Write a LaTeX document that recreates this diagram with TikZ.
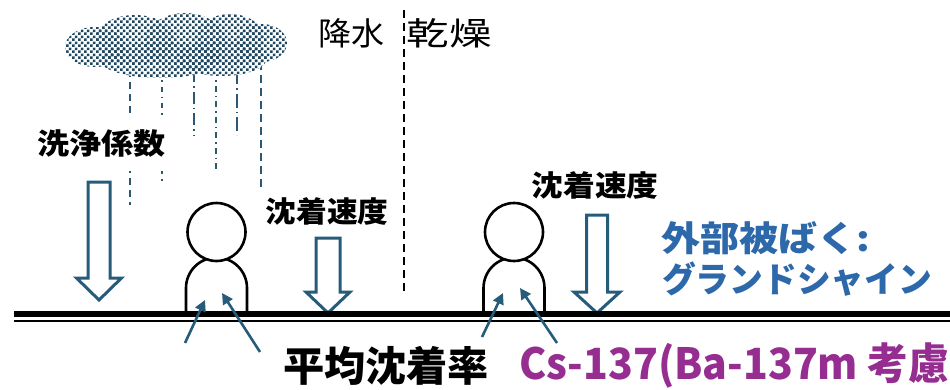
\documentclass[tikz,border=0pt]{standalone}
\usepackage{fontspec}
\usepackage{graphicx}
\newfontfamily\jp{Noto Sans CJK JP}
\usetikzlibrary{arrows.meta,patterns}

\definecolor{arrowteal}{RGB}{38,92,122}
\definecolor{raincol}{RGB}{45,88,115}
\definecolor{cloudcol}{RGB}{30,70,95}
\definecolor{gsblue}{RGB}{44,104,170}
\definecolor{cspurple}{RGB}{150,45,145}

% staggered grid of small squares for the rain cloud
\pgfdeclarepatternformonly{cloudspeck}{\pgfqpoint{0pt}{0pt}}{\pgfqpoint{6pt}{6pt}}{\pgfqpoint{6pt}{6pt}}{%
  \pgfpathrectangle{\pgfqpoint{0.2pt}{0.2pt}}{\pgfqpoint{2.9pt}{2.9pt}}%
  \pgfpathrectangle{\pgfqpoint{3.2pt}{3.2pt}}{\pgfqpoint{2.9pt}{2.9pt}}%
  \pgfusepath{fill}}

% stretch a text horizontally to a given width
\newcommand\fitw[2]{\resizebox{#1}{\height}{#2}}

% hollow down arrow: centre x, top y, head start y, tip y, shaft half width, head half width
\newcommand\hollowdown[6]{%
  \draw[hollow] (#1-#5,#2) -- (#1+#5,#2) -- (#1+#5,#3) -- (#1+#6,#3) -- (#1,#4)
    -- (#1-#6,#3) -- (#1-#5,#3) -- cycle;}

\tikzset{
  hollow/.style={draw=arrowteal, line width=3pt, fill=white, line join=miter},
  rain/.style={draw=raincol, line width=2pt},
  person/.style={draw=black, line width=2.6pt, fill=white},
  ptr/.style={draw=arrowteal, line width=2.6pt, -{Triangle[length=11pt,width=11pt]}},
  lbl/.style={inner sep=0pt},
  lblbox/.style={fill=white, inner sep=0pt},
}

\begin{document}
\begin{tikzpicture}[x=1pt,y=-1pt]
\useasboundingbox (0,0) rectangle (950,389);
\fill[white] (0,0) rectangle (950,389);

% rain streaks below the cloud
\draw[rain, dash pattern=on 7pt off 5pt] (130,70) -- (130,205);
\draw[rain, dash pattern=on 5pt off 5pt on 1.5pt off 5pt] (162,70) -- (162,182);
\draw[rain, dash pattern=on 12pt off 4pt on 1.5pt off 4pt] (194,70) -- (194,135);
\draw[rain, dash pattern=on 6pt off 4pt on 1.5pt off 4pt] (216,70) -- (216,170);
\draw[rain, dash pattern=on 14pt off 4pt on 1.5pt off 4pt] (237,70) -- (237,135);
\draw[rain, dash pattern=on 8pt off 5pt] (261,62) -- (261,188);

% cloud
\foreach \cx/\cy/\rx/\ry in {95/47/30/20, 135/40/40/25, 185/42/40/29, 230/40/35/26,
                               262/43/25/19, 160/60/60/18, 222/58/45/18} {
  \fill[white] (\cx,\cy) ellipse [x radius=\rx, y radius=\ry];
}
\foreach \cx/\cy/\rx/\ry in {95/47/30/20, 135/40/40/25, 185/42/40/29, 230/40/35/26,
                               262/43/25/19, 160/60/60/18, 222/58/45/18} {
  \fill[pattern=cloudspeck, pattern color=cloudcol] (\cx,\cy) ellipse [x radius=\rx, y radius=\ry];
}

% label background over the rain
\node[lblbox, minimum width=150pt, minimum height=56pt] (wbox) at (103,143) {};

% boundary between wet and dry deposition
\coordinate (divtop) at (404,10);
\coordinate (divbot) at (404,293);
\draw[black, line width=1.6pt, dash pattern=on 8pt off 5pt] (divtop) -- (divbot);

% hollow deposition arrows
\hollowdown{99}{182}{278}{300}{11}{22.5}
\hollowdown{328}{238}{292}{313}{12}{22}
\hollowdown{597}{215}{292}{313}{10.5}{23}

% people
\foreach \px in {216.5, 514} {
  \draw[person] (\px-30.5,313) -- (\px-30.5,288) arc (180:360:30.5) -- (\px+30.5,313);
  \draw[person] (\px,232) circle [radius=29];
}

% ground surface
\coordinate (gl) at (14,314);
\coordinate (gr) at (950,314);
\coordinate (tl) at (14,321);
\coordinate (tr) at (950,321);
\draw[black, line width=6pt] (gl) -- (gr);
\draw[black, line width=1.6pt] (tl) -- (tr);

% arrows pointing at the people
\coordinate (a1s) at (185,343); \coordinate (a1e) at (205,300);
\coordinate (a2s) at (260,352); \coordinate (a2e) at (222,293);
\coordinate (b1s) at (482,337); \coordinate (b1e) at (503,293);
\coordinate (b2s) at (557,343); \coordinate (b2e) at (520,288);
\draw[ptr] (a1s) -- (a1e);
\draw[ptr] (a2s) -- (a2e);
\draw[ptr] (b1s) -- (b1e);
\draw[ptr] (b2s) -- (b2e);

% texts
\node[lbl, font={\jp\bfseries\fontsize{29}{31}\selectfont}] (wash) at (101,144) {\fitw{128pt}{洗浄係数}};
\node[lbl, font={\jp\bfseries\fontsize{29}{31}\selectfont}] (vdl) at (327,211) {\fitw{123pt}{沈着速度}};
\node[lbl, font={\jp\bfseries\fontsize{29}{31}\selectfont}] (vdr) at (595,185) {\fitw{127pt}{沈着速度}};
\node[lbl, font={\jp\fontsize{32}{34}\selectfont}] (wet) at (351.5,33) {\fitw{66pt}{降水}};
\node[lbl, font={\jp\fontsize{32}{34}\selectfont}] (dry) at (449,33) {\fitw{85pt}{乾燥}};
\node[lbl, anchor=west, text=gsblue, font={\jp\bfseries\fontsize{35}{37}\selectfont}] (ext) at (661,238) {\fitw{209pt}{外部被ばく:}};
\node[lbl, anchor=west, text=gsblue, font={\jp\bfseries\fontsize{35}{37}\selectfont}] (gs) at (662,279) {\fitw{270pt}{グランドシャイン}};
\node[lbl, font={\jp\bfseries\fontsize{41}{43}\selectfont}] (avg) at (386,365.5) {\fitw{206pt}{平均沈着率}};
\node[lbl, anchor=west, text=cspurple, font={\jp\bfseries\fontsize{43}{45}\selectfont}] (cs) at (519,366) {\fitw{430pt}{Cs-137(Ba-137m 考慮}};
\end{tikzpicture}
\end{document}
